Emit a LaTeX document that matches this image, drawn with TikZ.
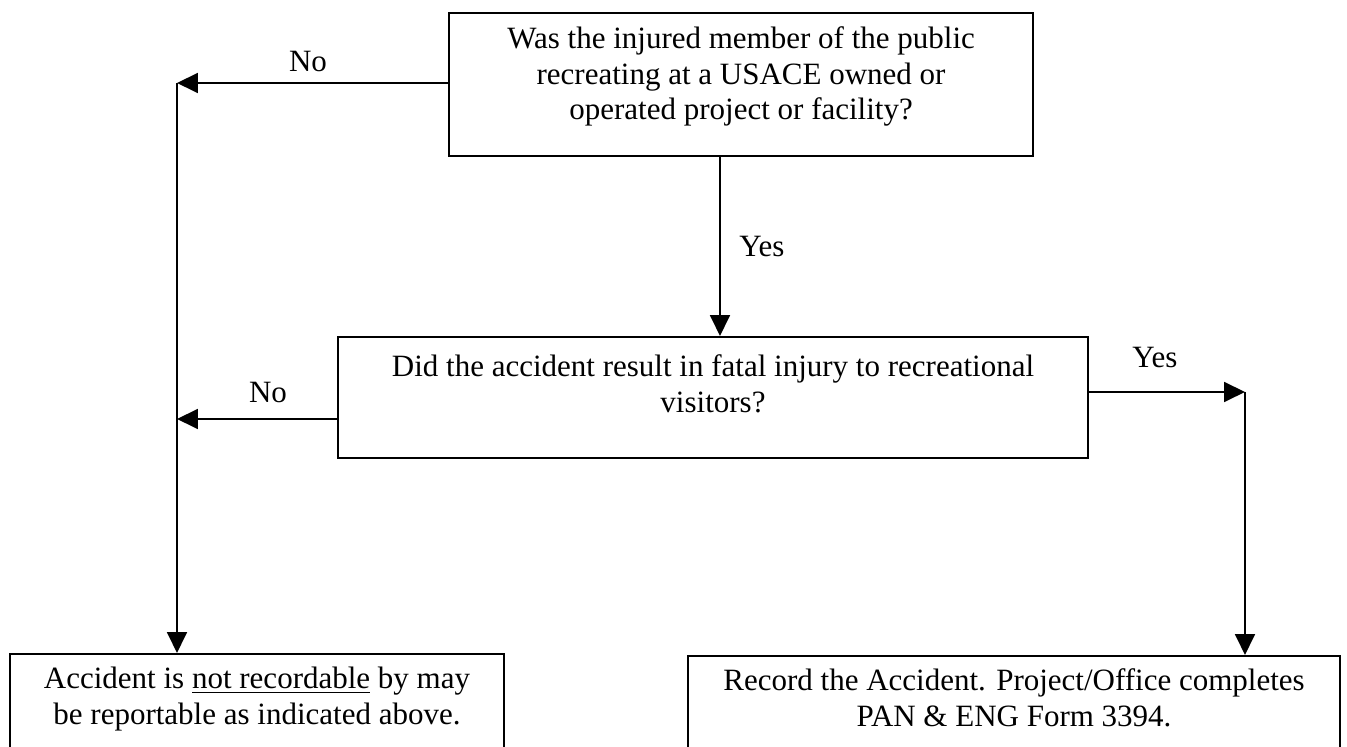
\documentclass[tikz,border=0pt]{standalone}
\usepackage{fontspec}
\setmainfont{Liberation Serif}
\usetikzlibrary{arrows.meta}
% text of a decision/result box, top aligned inside a fixed frame
\newcommand\flowtext[4]{\parbox[t][#2][t]{#1}{\centering\vspace*{#3}#4\par}}
\begin{document}
\begin{tikzpicture}[x=0.3871pt,y=-0.3871pt,
  every node/.style={font=\fontsize{12}{13.8}\selectfont},
  box/.style={draw, line width=0.8pt, inner sep=0pt, anchor=north west},
  flow/.style={line width=0.8pt, -{Triangle[length=8.1pt,width=7.7pt]}},
  lbl/.style={inner sep=0pt}]
\useasboundingbox (0,0) rectangle (1347,747);
\clip (0,0) rectangle (1347,747);

% decision boxes
\node[box] (q1) at (448,12)
  {\flowtext{226.1pt}{55.4pt}{5.3pt}{Was the injured member of the public\\ recreating at a USACE owned or\\ operated project or facility?}};
\node[box] (q2) at (337,336)
  {\flowtext{290.3pt}{46.8pt}{6.9pt}{Did the accident result in fatal injury to recreational\\ visitors?}};

% outcome boxes
\node[box] (bl) at (9,653)
  {\flowtext{191.2pt}{60pt}{5pt}{Accident is \underline{not recordable} by may\\ be reportable as indicated above.}};
\node[box] (br) at (687,655)
  {\flowtext{252.4pt}{60pt}{5pt}{Record the Accident. Project/Office completes\\ PAN \& ENG Form 3394.}};

% routing points
\coordinate (c1) at (177,83);
\coordinate (c2) at (177,419);
\coordinate (c3) at (1245,392);
\coordinate (c4) at (720,0);

% connectors
\draw[flow] (q1.west |- c1) -- (c1);
\draw[flow] (c1) -- (c1 |- bl.north);
\draw[flow] (q1.south -| c4) -- (q2.north -| c4);
\draw[flow] (q2.west |- c2) -- (c2);
\draw[flow] (q2.east |- c3) -- (c3);
\draw[flow] (c3) -- (c3 |- br.north);

% branch labels
\node[lbl] (no1) at (308,62) {No};
\node[lbl] (yes1) at (762,247) {Yes};
\node[lbl] (no2) at (268,393) {No};
\node[lbl] (yes2) at (1155,358) {Yes};
\end{tikzpicture}
\end{document}
